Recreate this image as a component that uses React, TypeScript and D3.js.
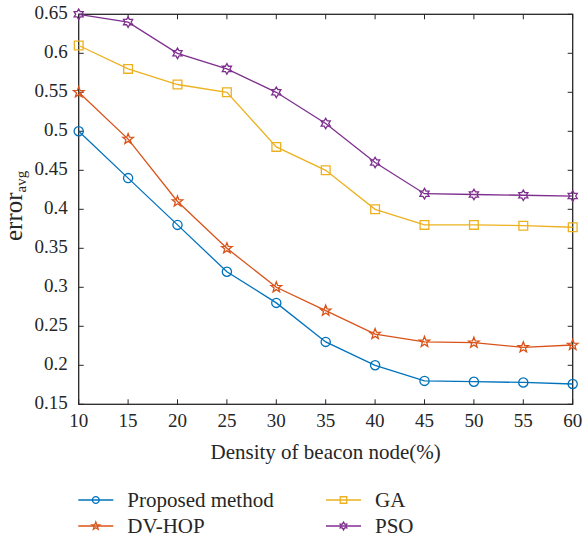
import React, { useEffect, useRef } from "react";
import * as d3 from "d3";

const density = [10, 15, 20, 25, 30, 35, 40, 45, 50, 55, 60];
const proposed = [0.5, 0.44, 0.38, 0.32, 0.28, 0.23, 0.2, 0.18, 0.179, 0.178, 0.176];
const dvhop = [0.55, 0.49, 0.41, 0.35, 0.3, 0.27, 0.24, 0.23, 0.229, 0.223, 0.226];
const ga = [0.61, 0.58, 0.56, 0.55, 0.48, 0.45, 0.4, 0.38, 0.38, 0.379, 0.377];
const pso = [0.65, 0.64, 0.6, 0.58, 0.55, 0.51, 0.46, 0.42, 0.419, 0.418, 0.417];
const yTicks = [0.15, 0.2, 0.25, 0.3, 0.35, 0.4, 0.45, 0.5, 0.55, 0.6, 0.65];

const seriesList = [
  { name: "Proposed method", values: proposed, color: "#0072BD", marker: "circle" },
  { name: "DV-HOP", values: dvhop, color: "#D95319", marker: "star" },
  { name: "GA", values: ga, color: "#EDB120", marker: "square" },
  { name: "PSO", values: pso, color: "#7E2F8E", marker: "hexagram" },
];

// marker path centered at 0,0
function markerPath(kind: string, r: number): string {
  if (kind === "circle") return d3.symbol(d3.symbolCircle, Math.PI * r * r)()!;
  if (kind === "square") {
    const s = r * 0.95;
    return `M${-s},${-s}H${s}V${s}H${-s}Z`;
  }
  if (kind === "star") {
    const pts: string[] = [];
    for (let i = 0; i < 10; i++) {
      const rr = i % 2 === 0 ? r * 1.2 : r * 0.5;
      const a = -Math.PI / 2 + (i * Math.PI) / 5;
      pts.push(`${rr * Math.cos(a)},${rr * Math.sin(a)}`);
    }
    return "M" + pts.join("L") + "Z";
  }
  // hexagram
  const pts: string[] = [];
  for (let i = 0; i < 12; i++) {
    const rr = i % 2 === 0 ? r * 1.15 : r * 0.66;
    const a = -Math.PI / 2 + (i * Math.PI) / 6;
    pts.push(`${rr * Math.cos(a)},${rr * Math.sin(a)}`);
  }
  return "M" + pts.join("L") + "Z";
}

export default function App() {
  const ref = useRef<SVGSVGElement>(null);

  useEffect(() => {
    const svg = d3.select(ref.current);
    svg.selectAll("*").remove();

    const left = 78.7, right = 572.7, top = 14.3, bottom = 404.3;
    const x = d3.scaleLinear().domain([10, 60]).range([left, right]);
    const y = d3.scaleLinear().domain([0.15, 0.65]).range([bottom, top]);

    const axisColor = "#262626";
    const textColor = "#262626";
    const tickLen = 5;

    // box
    svg.append("rect").attr("x", left).attr("y", top).attr("width", right - left).attr("height", bottom - top)
      .attr("fill", "none").attr("stroke", axisColor).attr("stroke-width", 1.3);

    // ticks
    const g = svg.append("g").attr("stroke", axisColor).attr("stroke-width", 1);
    density.forEach(d => {
      g.append("line").attr("x1", x(d)).attr("x2", x(d)).attr("y1", bottom).attr("y2", bottom - tickLen);
      g.append("line").attr("x1", x(d)).attr("x2", x(d)).attr("y1", top).attr("y2", top + tickLen);
    });
    yTicks.forEach(t => {
      g.append("line").attr("x1", left).attr("x2", left + tickLen).attr("y1", y(t)).attr("y2", y(t));
      g.append("line").attr("x1", right).attr("x2", right - tickLen).attr("y1", y(t)).attr("y2", y(t));
    });

    // tick labels
    svg.append("g").selectAll("text").data(density).join("text")
      .attr("x", d => x(d)).attr("y", bottom + 22.4).attr("text-anchor", "middle")
      .attr("font-size", 19).attr("fill", textColor).text(d => d);
    svg.append("g").selectAll("text").data(yTicks).join("text")
      .attr("x", left - 11).attr("y", d => y(d) + 5).attr("text-anchor", "end")
      .attr("font-size", 19).attr("fill", textColor)
      .text(d => d3.format("")(+d.toFixed(2)));

    // axis titles
    svg.append("text").attr("x", (left + right) / 2).attr("y", 459.3).attr("text-anchor", "middle")
      .attr("font-size", 21).attr("fill", textColor).text("Density of beacon node(%)");
    const yl = svg.append("text").attr("transform", `translate(22,241) rotate(-90)`)
      .attr("text-anchor", "start").attr("font-size", 25).attr("fill", textColor);
    yl.append("tspan").text("error");
    yl.append("tspan").attr("font-size", 15).attr("dy", 4).text("avg");

    const line = d3.line<number>().x((_, i) => x(density[i])).y(v => y(v));

    seriesList.forEach(s => {
      svg.append("path").attr("d", line(s.values)).attr("fill", "none")
        .attr("stroke", s.color).attr("stroke-width", 1.3);
      svg.append("g").selectAll("path").data(s.values).join("path")
        .attr("transform", (v, i) => `translate(${x(density[i])},${y(v)})`)
        .attr("d", markerPath(s.marker, 4.6)).attr("fill", "none")
        .attr("stroke", s.color).attr("stroke-width", 1.3);
    });

    // legend
    const legPos = [
      { lx: 78.3, ly: 500 },
      { lx: 78.3, ly: 526 },
      { lx: 326, ly: 500 },
      { lx: 326, ly: 526 },
    ];
    seriesList.forEach((s, i) => {
      const p = legPos[i];
      svg.append("line").attr("x1", p.lx).attr("x2", p.lx + 35).attr("y1", p.ly).attr("y2", p.ly)
        .attr("stroke", s.color).attr("stroke-width", 1.3);
      svg.append("path").attr("transform", `translate(${p.lx + 17.5},${p.ly})`)
        .attr("d", markerPath(s.marker, 3.4)).attr("fill", "none").attr("stroke", s.color).attr("stroke-width", 1.3);
      svg.append("text").attr("x", p.lx + 49).attr("y", p.ly + 6.5)
        .attr("font-size", 21).attr("fill", textColor).text(s.name);
    });
  }, []);

  return (
    <svg ref={ref} width={584} height={539}
      style={{ position: "absolute", left: 0, top: 0, background: "#fff", fontFamily: "'Liberation Serif', 'DejaVu Serif', serif" }} />
  );
}
